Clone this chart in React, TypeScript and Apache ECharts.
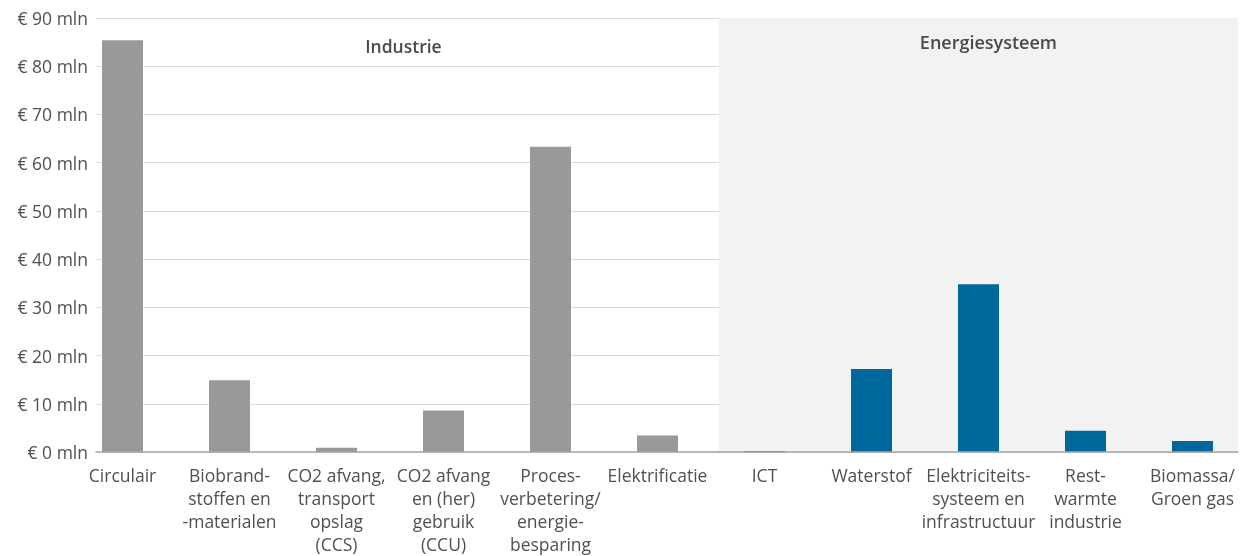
import React, { useEffect, useRef } from "react";
import * as echarts from "echarts";

const categories = [
  "Circulair",
  "Biobrand-\nstoffen en\n-materialen",
  "CO2 afvang,\ntransport\nopslag\n(CCS)",
  "CO2 afvang\nen (her)\ngebruik\n(CCU)",
  "Proces-\nverbetering/\nenergie-\nbesparing",
  "Elektrificatie",
  "ICT",
  "Waterstof",
  "Elektriciteits-\nsysteem en\ninfrastructuur",
  "Rest-\nwarmte\nindustrie",
  "Biomassa/\nGroen gas",
];

const industrieValues = [85.4, 14.9, 0.9, 8.6, 63.3, 3.4, null, null, null, null, null];
const energieValues = [null, null, null, null, null, null, 0.2, 17.2, 34.8, 4.4, 2.3];

const yTicks = [0, 10, 20, 30, 40, 50, 60, 70, 80, 90];
const groupLabels = ["Industrie", "Energiesysteem"];
// category index ranges of the two groups (start inclusive, end exclusive)
const groupRanges = [
  [0, 6],
  [6, 11],
];

const FONT = "'Open Sans', 'Noto Sans', sans-serif";
const TEXT = "#505050";

export default function App() {
  const ref = useRef<HTMLDivElement>(null);
  useEffect(() => {
    const chart = echarts.init(ref.current!, null, { renderer: "svg" });
    const top = 18;
    const bottom = 104;
    chart.setOption({
      animation: false,
      textStyle: { fontFamily: FONT },
      grid: [
        { left: 96, right: 16, top, bottom, containLabel: false, outerBoundsMode: "none" },
        { left: 69, right: 8, top, bottom, containLabel: false, outerBoundsMode: "none" },
      ],
      xAxis: [
        {
          type: "value",
          gridIndex: 0,
          min: 0,
          max: categories.length,
          position: "bottom",
          axisLabel: { show: false },
          axisTick: { show: false },
          splitLine: { show: false },
          axisLine: { show: true, onZero: false, lineStyle: { color: "#a6a6a6", width: 1.5 } },
          z: 10,
        },
        {
          type: "category",
          gridIndex: 1,
          data: categories,
          axisTick: { show: false },
          axisLine: { show: false },
          axisLabel: {
            interval: 0,
            color: TEXT,
            fontSize: 17.5,
            lineHeight: 23,
            margin: 11,
            fontFamily: FONT,
          },
        },
      ],
      yAxis: [
        {
          type: "value",
          gridIndex: 0,
          min: yTicks[0],
          max: yTicks[yTicks.length - 1],
          interval: 10,
          axisLine: { show: false },
          axisTick: { show: false },
          axisLabel: {
            color: TEXT,
            fontSize: 17.5,
            margin: 8,
            fontFamily: FONT,
            formatter: (v: number) => `€ ${v} mln`,
          },
          splitLine: { lineStyle: { color: "#d9d9d9", width: 1 } },
        },
        {
          type: "value",
          gridIndex: 1,
          min: yTicks[0],
          max: yTicks[yTicks.length - 1],
          interval: 10,
          show: false,
        },
      ],
      series: [
        {
          type: "line",
          xAxisIndex: 0,
          yAxisIndex: 0,
          data: [],
          silent: true,
          markArea: {
            silent: true,
            data: [
              [
                {
                  xAxis: groupRanges[0][0],
                  yAxis: yTicks[yTicks.length - 1],
                  name: groupLabels[0],
                  itemStyle: { color: "rgba(0,0,0,0)" },
                  label: { offset: [-4, 14] },
                },
                { xAxis: groupRanges[0][1], yAxis: yTicks[0] },
              ],
              [
                {
                  xAxis: groupRanges[1][0],
                  yAxis: yTicks[yTicks.length - 1],
                  name: groupLabels[1],
                  itemStyle: { color: "#f2f2f2" },
                  label: { offset: [10, 10], fontSize: 18 },
                },
                { xAxis: groupRanges[1][1], yAxis: yTicks[0] },
              ],
            ],
            label: {
              show: true,
              position: "insideTop",
              color: "#4a4a4a",
              fontSize: 17.5,
              fontWeight: 600,
              fontFamily: FONT,
            },
          },
          z: 0,
        },
        {
          type: "bar",
          xAxisIndex: 1,
          yAxisIndex: 1,
          stack: "g",
          data: industrieValues,
          barWidth: 41,
          itemStyle: { color: "#999999" },
          z: 3,
        },
        {
          type: "bar",
          xAxisIndex: 1,
          yAxisIndex: 1,
          stack: "g",
          data: energieValues,
          barWidth: 41,
          itemStyle: { color: "#00679a" },
          z: 3,
        },
      ],
    });
    return () => chart.dispose();
  }, []);
  return (
    <div
      ref={ref}
      style={{ position: "fixed", left: 0, top: 0, width: 1254, height: 556 }}
    />
  );
}
